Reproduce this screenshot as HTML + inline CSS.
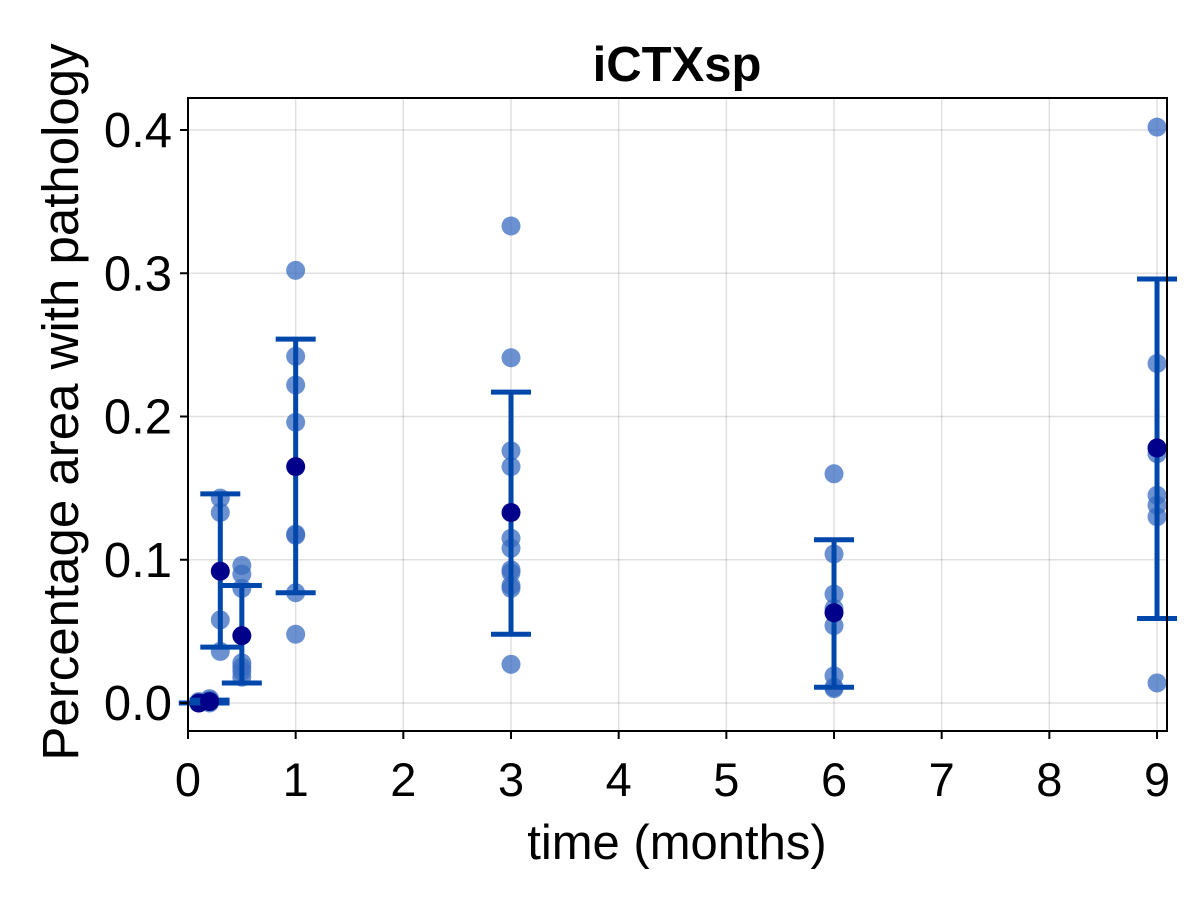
<!DOCTYPE html>
<html><head><meta charset="utf-8"><style>
body{margin:0;background:#fff}
svg text{font-family:"Liberation Sans",sans-serif}
</style></head><body>
<svg id="chart" width="1200" height="900" viewBox="0 0 1200 900">
<rect width="1200" height="900" fill="#fff"/>
<g id="grid"></g>
<g id="marks"></g>
<rect x="188" y="98" width="979" height="633" fill="none" stroke="#000" stroke-width="2"/>
<g id="axes"></g>
<text x="677" y="81" text-anchor="middle" font-size="49" font-weight="bold">iCTXsp</text>
<text x="677" y="859" text-anchor="middle" font-size="49">time (months)</text>
<text transform="translate(78,402) rotate(-90)" text-anchor="middle" font-size="51">Percentage area with pathology</text>
</svg>
<script>
const times=[0.1,0.2,0.3,0.5,1,3,6,9];
const values=[
[0,0,0.001,0],
[0.001,0.003,0,0.002],
[0.143,0.133,0.058,0.036],
[0.096,0.090,0.080,0.028,0.025,0.022,0.018],
[0.302,0.242,0.222,0.196,0.118,0.117,0.077,0.048],
[0.333,0.241,0.176,0.165,0.115,0.108,0.093,0.091,0.082,0.080,0.027],
[0.160,0.104,0.076,0.066,0.054,0.019,0.011,0.010],
[0.402,0.237,0.178,0.174,0.145,0.138,0.130,0.014]];
const means=[0,0.001,0.092,0.047,0.165,0.133,0.063,0.178];
const errLow=[0,0,0.039,0.014,0.077,0.048,0.011,0.059];
const errHigh=[0,0.002,0.146,0.082,0.254,0.217,0.114,0.296];
const xTicks=[0,1,2,3,4,5,6,7,8,9];
const yTicks=[0,0.1,0.2,0.3,0.4];
const yTickLabels=["0.0","0.1","0.2","0.3","0.4"];
const X=v=>188+v*107.67, Y=v=>703-v*1432.5;
const NS="http://www.w3.org/2000/svg";
function mk(tag,parent,attrs){const e=document.createElementNS(NS,tag);for(const k in attrs)e.setAttribute(k,attrs[k]);document.getElementById(parent).appendChild(e);return e;}
xTicks.forEach(t=>{
 const g=mk('line','grid',{x1:X(t),x2:X(t),y1:98,y2:731,stroke:'#000','stroke-opacity':0.12,'stroke-width':1.5});
 
 
 const tk=mk('line','axes',{x1:X(t),x2:X(t),y1:731,y2:739,stroke:'#000','stroke-width':2});
 
 
 const tx=mk('text','axes',{x:X(t),y:796,'text-anchor':'middle','font-size':47});
 tx.textContent=t;
 
 
});
yTicks.forEach((t,i)=>{
 const g=mk('line','grid',{x1:188,x2:1167,y1:Y(t),y2:Y(t),stroke:'#000','stroke-opacity':0.12,'stroke-width':1.5});
 
 
 const tk=mk('line','axes',{x1:180,x2:188,y1:Y(t),y2:Y(t),stroke:'#000','stroke-width':2});
 
 
 const tx=mk('text','axes',{x:172,y:Y(t)+17,'text-anchor':'end','font-size':49});
 tx.textContent=yTickLabels[i];
 
 
});
times.forEach((t,i)=>{
 values[i].forEach(v=>{
  const c=mk('circle','marks',{cx:X(t),cy:Y(v),r:9.5,fill:'#3a6cc0','fill-opacity':0.75});
  
  
 });
});
times.forEach((t,i)=>{
 const x=X(t),h=20;
 const g=mk('path','marks',{d:`M${x},${Y(errLow[i])}V${Y(errHigh[i])}M${x-h},${Y(errLow[i])}H${x+h}M${x-h},${Y(errHigh[i])}H${x+h}`,stroke:'#0047ab','stroke-width':5,fill:'none'});
 
 
 const m=mk('circle','marks',{cx:x,cy:Y(means[i]),r:9.5,fill:'#00008b'});
 
 
});
</script>
</body></html>
